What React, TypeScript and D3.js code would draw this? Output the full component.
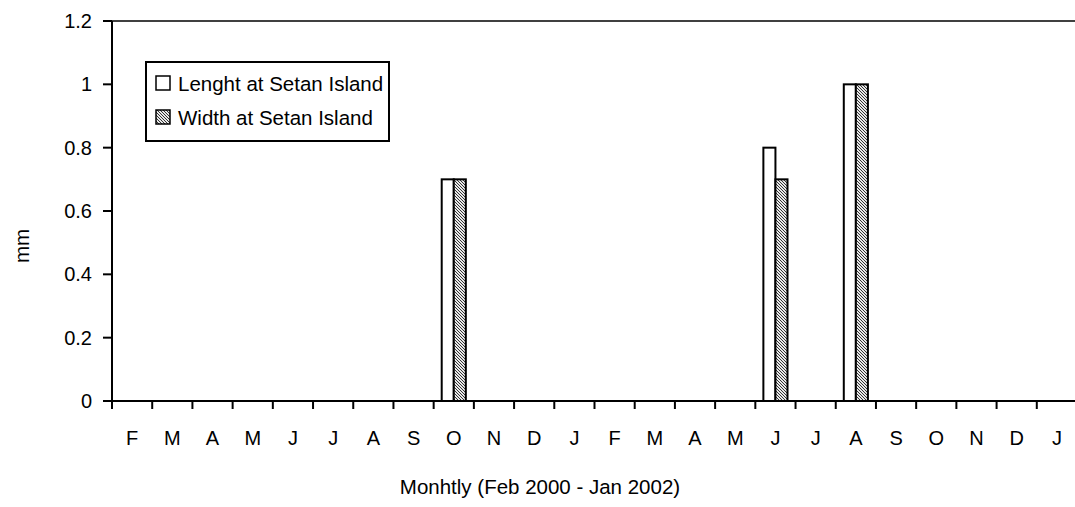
import * as d3 from 'd3';

const months = ['F', 'M', 'A', 'M', 'J', 'J', 'A', 'S', 'O', 'N', 'D', 'J',
  'F', 'M', 'A', 'M', 'J', 'J', 'A', 'S', 'O', 'N', 'D', 'J'];
const monthKeys = months.map((m, i) => `${m}${i}`);
const lengthValues = [0, 0, 0, 0, 0, 0, 0, 0, 0.7, 0, 0, 0, 0, 0, 0, 0, 0.8, 0, 1.0, 0, 0, 0, 0, 0];
const widthValues = [0, 0, 0, 0, 0, 0, 0, 0, 0.7, 0, 0, 0, 0, 0, 0, 0, 0.7, 0, 1.0, 0, 0, 0, 0, 0];
const seriesNames = ['Lenght at Setan Island', 'Width at Setan Island'];
const yTicks = [0, 0.2, 0.4, 0.6, 0.8, 1, 1.2];

const W = 1075;
const H = 507;
const margin = { top: 21, right: -2, bottom: 106, left: 112 };
const font = '"Liberation Sans", Arial, sans-serif';

export default function App() {
  const innerW = W - margin.left - margin.right;
  const innerH = H - margin.top - margin.bottom;

  const x = d3.scaleBand<string>().domain(monthKeys).range([0, innerW]);
  const bw = x.bandwidth();
  const xs = d3.scaleBand<string>().domain(seriesNames).range([bw * 0.2, bw * 0.8]);
  const y = d3.scaleLinear().domain([0, 1.2]).range([innerH, 0]);

  const series = [
    { name: seriesNames[0], values: lengthValues, fill: '#ffffff' },
    { name: seriesNames[1], values: widthValues, fill: 'url(#hatch)' },
  ];

  return (
    <svg width={W} height={H} style={{ position: 'absolute', left: 0, top: 0, background: '#fff' }}>
      <defs>
        <pattern id="hatch" patternUnits="userSpaceOnUse" width="3" height="3">
          <rect width="3" height="3" fill="#e8e8e8" />
          <path d="M0,0 L3,3 M-1,2 L1,4 M2,-1 L4,1" stroke="#333" strokeWidth="1" />
        </pattern>
      </defs>
      <g transform={`translate(${margin.left},${margin.top})`} fontFamily={font}>
        {/* top border */}
        <line x1={0} x2={innerW} y1={0} y2={0} stroke="#000" strokeWidth={1.5} />
        <line x1={innerW} x2={innerW} y1={0} y2={innerH} stroke="#000" strokeWidth={1.5} />

        {series.map(s =>
          s.values.map((v, i) =>
            v > 0 ? (
              <rect
                key={`${s.name}-${i}`}
                x={(x(monthKeys[i]) ?? 0) + (xs(s.name) ?? 0)}
                y={y(v)}
                width={xs.bandwidth()}
                height={innerH - y(v)}
                fill={s.fill}
                stroke="#000"
                strokeWidth={2}
              />
            ) : null
          )
        )}

        {/* y axis */}
        <line x1={0} x2={0} y1={0} y2={innerH} stroke="#000" strokeWidth={2} />
        {yTicks.map(t => (
          <g key={t} transform={`translate(0,${y(t)})`}>
            <line x1={-9} x2={0} stroke="#000" strokeWidth={2} />
            <text x={-20} dy="0.35em" textAnchor="end" fontSize={20}>{t}</text>
          </g>
        ))}

        {/* x axis */}
        <line x1={0} x2={innerW} y1={innerH} y2={innerH} stroke="#000" strokeWidth={2} />
        {monthKeys.map((k, i) => (
          <g key={k}>
            <line x1={x(k) ?? 0} x2={x(k) ?? 0} y1={innerH} y2={innerH + 8} stroke="#000" strokeWidth={2} />
            <text x={(x(k) ?? 0) + bw / 2} y={innerH + 44} textAnchor="middle" fontSize={20}>{months[i]}</text>
          </g>
        ))}

        <text x={(540 - margin.left)} y={innerH + 93} textAnchor="middle" fontSize={20.5}>
          Monhtly (Feb 2000 - Jan 2002)
        </text>
        <text transform={`translate(${29 - margin.left},${246 - margin.top}) rotate(-90)`} textAnchor="middle" fontSize={20.5}>
          mm
        </text>

        {/* legend */}
        <g transform={`translate(${146 - margin.left},${62 - margin.top})`}>
          <rect x={0} y={0} width={243} height={79} fill="#fff" stroke="#000" strokeWidth={2} />
          {series.map((s, i) => (
            <g key={s.name} transform={`translate(0,${i * 34})`}>
              <rect x={10} y={14} width={14} height={14} fill={s.fill} stroke="#000" strokeWidth={1.5} />
              <text x={32} y={29} fontSize={20.5}>{s.name}</text>
            </g>
          ))}
        </g>
      </g>
    </svg>
  );
}
